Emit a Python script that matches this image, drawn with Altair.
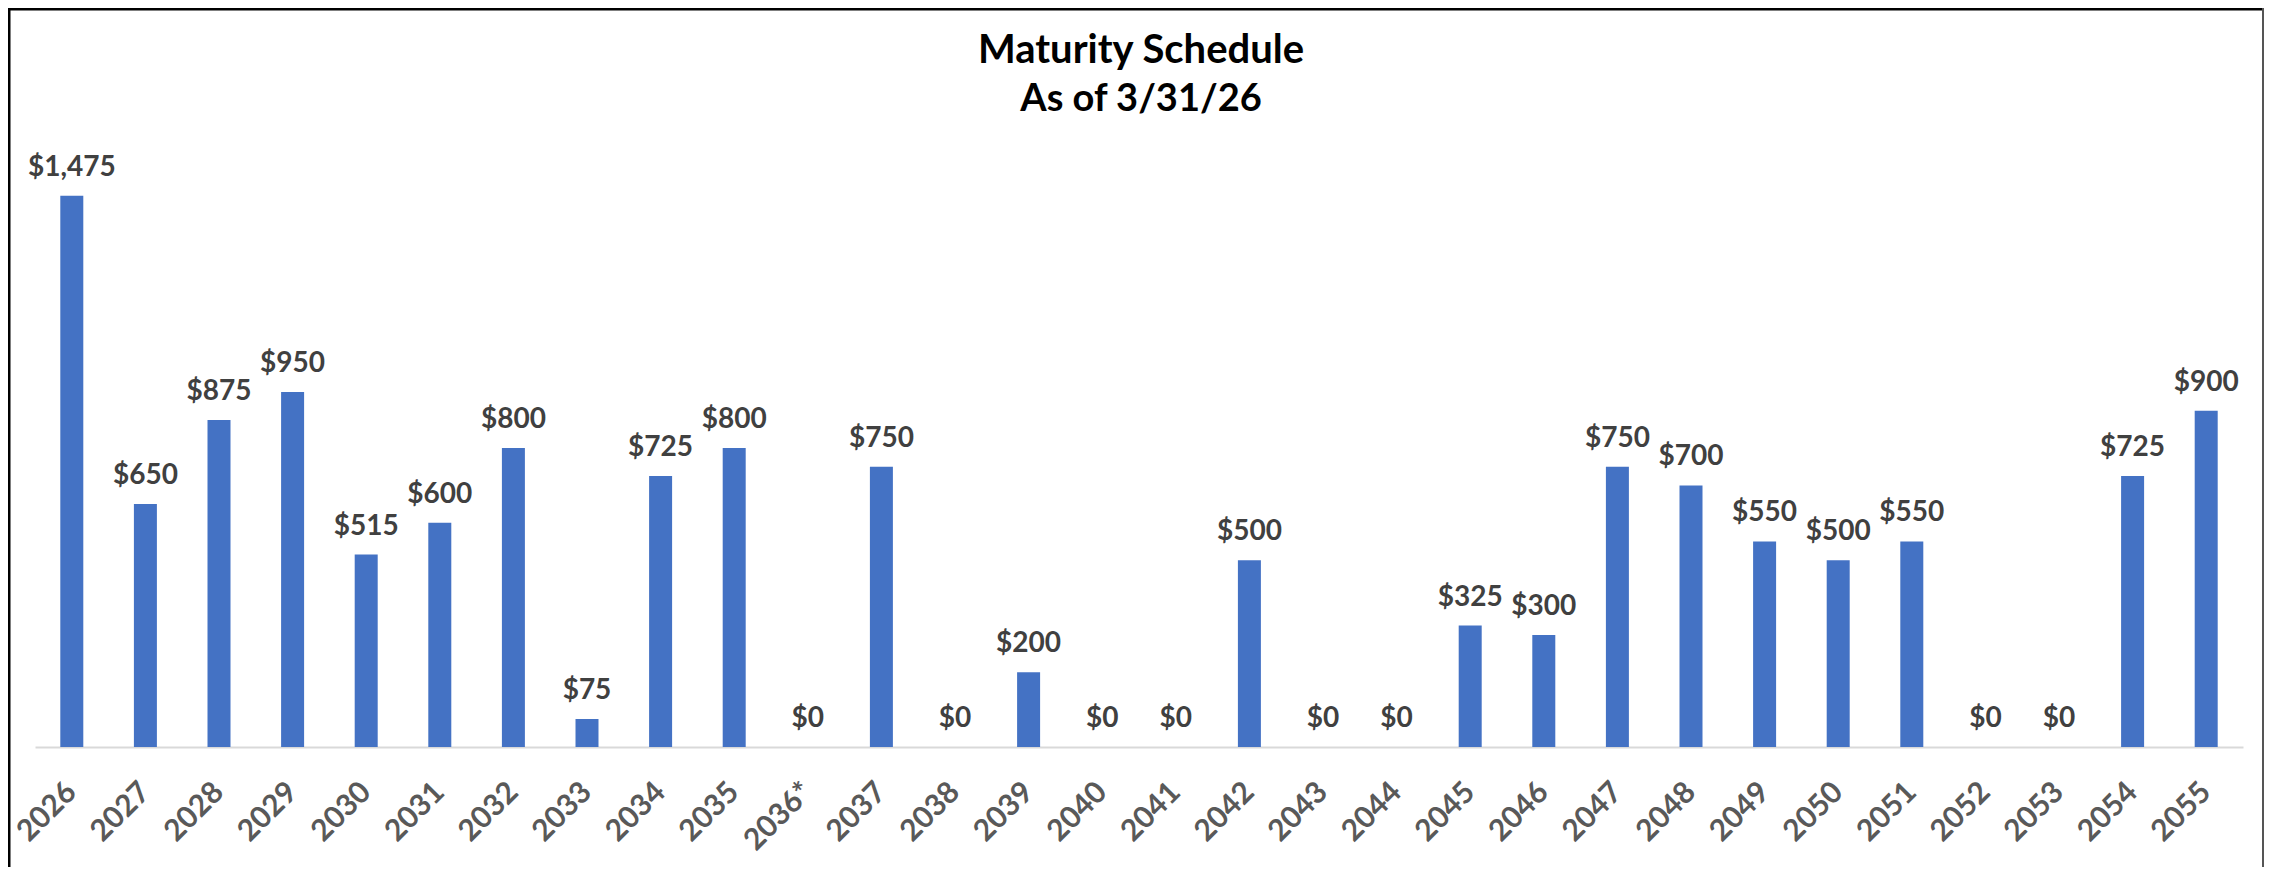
import altair as alt
import pandas as pd

title_text = "Maturity Schedule"
subtitle_text = "As of 3/31/26"

years = ["2026", "2027", "2028", "2029", "2030", "2031", "2032", "2033", "2034", "2035",
         "2036*", "2037", "2038", "2039", "2040", "2041", "2042", "2043", "2044", "2045",
         "2046", "2047", "2048", "2049", "2050", "2051", "2052", "2053", "2054", "2055"]
amounts = [1475, 650, 875, 950, 515, 600, 800, 75, 725, 800,
           0, 750, 0, 200, 0, 0, 500, 0, 0, 325,
           300, 750, 700, 550, 500, 550, 0, 0, 725, 900]

df = pd.DataFrame({"year": years, "amount": amounts})

FONT = "Lato"
W, H = 2208, 598

x_enc = alt.X(
    "year:N",
    sort=years,
    scale=alt.Scale(paddingInner=0.6875, paddingOuter=0.34375),
    axis=alt.Axis(
        title=None,
        labelAngle=-45,
        labelAlign="right",
        labelBaseline="middle",
        labelFont=FONT,
        labelFontSize=30,
        labelFontWeight="bold",
        labelColor="#595959",
        labelPadding=40,
        ticks=False,
        domainColor="#D9D9D9",
        domainWidth=2,
        grid=False,
    ),
)
y_enc = alt.Y(
    "amount:Q",
    scale=alt.Scale(domain=[0, 1600], nice=False, zero=True),
    axis=None,
)

base = alt.Chart(df)

bars = base.mark_bar(color="#4472C4").encode(x=x_enc, y=y_enc)

labels = base.transform_calculate(
    lbl="'$' + format(datum.amount, ',')"
).mark_text(
    font=FONT, fontSize=28, fontWeight="bold", color="#404040",
    baseline="alphabetic", dy=-20,
).encode(x=x_enc, y=y_enc, text="lbl:N")

title_df = pd.DataFrame({"t": [title_text]})
subtitle_df = pd.DataFrame({"t": [subtitle_text]})

title_mark = alt.Chart(title_df).mark_text(
    font=FONT, fontSize=40, fontWeight="bold", color="#000000",
    baseline="alphabetic", align="center",
).encode(text="t:N", x=alt.value(W / 2 + 2), y=alt.value(-86))

subtitle_mark = alt.Chart(subtitle_df).mark_text(
    font=FONT, fontSize=38, fontWeight="bold", color="#000000",
    baseline="alphabetic", align="center",
).encode(text="t:N", x=alt.value(W / 2 + 2), y=alt.value(-38))

border_top = alt.Chart(title_df).mark_rule(color="#000000", strokeWidth=3).encode(
    x=alt.value(-27), x2=alt.value(W + 21), y=alt.value(-140), y2=alt.value(-140)
)
border_left = alt.Chart(title_df).mark_rule(color="#000000", strokeWidth=3).encode(
    x=alt.value(-26), x2=alt.value(-26), y=alt.value(-141), y2=alt.value(H + 120)
)
border_right = alt.Chart(title_df).mark_rule(color="#555555", strokeWidth=2).encode(
    x=alt.value(W + 20), x2=alt.value(W + 20), y=alt.value(-141), y2=alt.value(H + 120)
)

chart = alt.layer(
    bars, labels, title_mark, subtitle_mark, border_top, border_left, border_right
).properties(
    width=W,
    height=H,
    background="#FFFFFF",
    autosize=alt.AutoSizeParams(type="none"),
    padding={"left": 27, "top": 141, "right": 21, "bottom": 120},
).configure_view(strokeWidth=0, stroke="transparent")

chart.save("out.html", embed_options={"renderer": "svg", "actions": False})
